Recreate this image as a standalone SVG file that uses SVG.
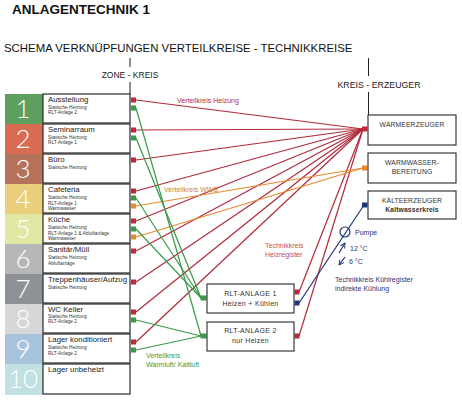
<svg xmlns="http://www.w3.org/2000/svg" width="462" height="400" viewBox="0 0 462 400">
<style>
text{font-family:"Liberation Sans",Arial,sans-serif;}
.num{font-family:Lato,"Liberation Sans",sans-serif;font-weight:300;font-size:26px;fill:#fff;text-anchor:middle;}
.zb{fill:#fff;stroke:#2b2b2b;stroke-width:1.2;}
.zt{font-size:7.8px;fill:#222;}
.zs{font-size:4.8px;fill:#333;}
.box{fill:#fff;stroke:#3a3a3a;stroke-width:1.2;}
.bt{font-size:7px;fill:#333;text-anchor:middle;letter-spacing:0.3px;}
.bt2{font-size:6.8px;fill:#333;text-anchor:middle;letter-spacing:0.1px;}
.tick{stroke:#222;stroke-width:1;}
.r{stroke:#b02a3a;stroke-width:1.2;fill:none;}
.g{stroke:#3a9a48;stroke-width:1.2;fill:none;}
.o{stroke:#e8892f;stroke-width:1.2;fill:none;}
.b{stroke:#1f3575;stroke-width:1.2;fill:none;}
.rs{fill:#c0283a;}
.gs{fill:#3a9a48;}
.os{fill:#e8892f;}
.bs{fill:#1f3575;}
.lab{font-size:7px;}
</style>
<defs>
<marker id="ah" viewBox="0 0 6 6" refX="5" refY="3" markerWidth="5" markerHeight="5" orient="auto"><path d="M0,0.5 L5,3 L0,5.5" fill="none" stroke="#1f3575" stroke-width="0.9"/></marker>
</defs>

<text x="12" y="14" font-size="13.5" font-weight="bold" fill="#111">ANLAGENTECHNIK 1</text>
<text x="4" y="52" font-size="11.4" fill="#111">SCHEMA VERKNÜPFUNGEN VERTEILKREISE - TECHNIKKREISE</text>
<line class="tick" x1="130" y1="58" x2="130" y2="67"/>
<text x="130" y="78" font-size="8.5" fill="#222" text-anchor="middle">ZONE - KREIS</text>
<line class="tick" x1="130" y1="82" x2="130" y2="94"/>
<line class="tick" x1="368.5" y1="58" x2="368.5" y2="76"/>
<text x="379" y="87.5" font-size="8.8" fill="#222" text-anchor="middle">KREIS - ERZEUGER</text>
<line class="tick" x1="368.5" y1="92" x2="368.5" y2="115"/>

<g id="connectors">
<g class="r">
<line x1="136" y1="100" x2="363" y2="129"/>
<line x1="136" y1="130" x2="363" y2="129"/>
<line x1="136" y1="160" x2="363" y2="129"/>
<line x1="136" y1="191" x2="363" y2="129"/>
<line x1="136" y1="221" x2="363" y2="129"/>
<line x1="136" y1="251" x2="363" y2="129"/>
<line x1="136" y1="282" x2="363" y2="129"/>
<line x1="136" y1="312" x2="363" y2="129"/>
<line x1="136" y1="342" x2="363" y2="129"/>
<line x1="299" y1="292" x2="363" y2="129"/>
<line x1="299" y1="336" x2="363" y2="129"/>
</g>
<g class="o">
<line x1="136" y1="206" x2="363" y2="168"/>
<line x1="136" y1="237" x2="363" y2="168"/>
</g>
<g class="g">
<line x1="136" y1="108" x2="201" y2="336"/>
<line x1="136" y1="138" x2="201" y2="298"/>
<line x1="136" y1="198" x2="201" y2="298"/>
<line x1="136" y1="229" x2="201" y2="298"/>
<line x1="136" y1="320" x2="201" y2="336"/>
<line x1="136" y1="350" x2="201" y2="336"/>
</g>
<line class="b" x1="299" y1="303" x2="364" y2="205"/>
<circle class="b" cx="345" cy="232" r="5"/>
<path class="b" d="M339,253 L345,243" marker-end="url(#ah)"/>
<path class="b" d="M345,257 L339,265" marker-end="url(#ah)"/>
<g class="rs">
<rect x="131" y="97.5" width="5" height="5"/>
<rect x="131" y="127.5" width="5" height="5"/>
<rect x="131" y="157.5" width="5" height="5"/>
<rect x="131" y="188.5" width="5" height="5"/>
<rect x="131" y="218.5" width="5" height="5"/>
<rect x="131" y="248.5" width="5" height="5"/>
<rect x="131" y="279.5" width="5" height="5"/>
<rect x="131" y="309.5" width="5" height="5"/>
<rect x="131" y="339.5" width="5" height="5"/>
<rect x="294.5" y="289.5" width="5" height="5"/>
<rect x="294.5" y="333.5" width="5" height="5"/>
<rect x="362" y="126.5" width="5.5" height="5"/>
</g>
<g class="gs">
<rect x="131" y="105.5" width="5" height="5"/>
<rect x="131" y="135.5" width="5" height="5"/>
<rect x="131" y="195.5" width="5" height="5"/>
<rect x="131" y="226.5" width="5" height="5"/>
<rect x="131" y="317.5" width="5" height="5"/>
<rect x="131" y="347.5" width="5" height="5"/>
<rect x="200.5" y="295.5" width="6" height="5"/>
<rect x="200.5" y="333.5" width="6" height="5"/>
</g>
<g class="os">
<rect x="131" y="203.5" width="5" height="5"/>
<rect x="131" y="234.5" width="5" height="5"/>
<rect x="362" y="165.5" width="5.5" height="5"/>
</g>
<g class="bs">
<rect x="294.5" y="300.5" width="5" height="5"/>
<rect x="362" y="202.5" width="5.5" height="5"/>
</g>
</g>

<text class="lab" x="177" y="103" fill="#b03040">Verteilkreis Heizung</text>
<text class="lab" x="164" y="192" fill="#c8853a">Verteilkreis WWB</text>
<text class="lab" x="265" y="248" fill="#c05060">Technikkreis</text>
<text class="lab" x="265" y="257" fill="#c05060">Heizregister</text>
<text class="lab" x="146" y="358" fill="#3a9a48">Verteilkreis</text>
<text class="lab" x="146" y="367" fill="#3a9a48">Warmluft/ Kaltluft</text>
<g fill="#1f3575" font-size="7">
<text x="355" y="235">Pumpe</text>
<text x="350" y="251">12 °C</text>
<text x="349" y="264">6 °C</text>
<text x="335" y="282">Technikkreis Kühlregister</text>
<text x="335" y="291">indirekte Kühlung</text>
</g>

<g id="zone1"><rect x="5" y="94" width="38" height="30" fill="#5c9f5e"/><text class="num" x="23" y="117.5">1</text><rect class="zb" x="43" y="94" width="87" height="29"/><text class="zt" x="48" y="101.5">Ausstellung</text><text class="zs" x="48" y="108.5">Statische Heizung</text><text class="zs" x="48" y="114">RLT-Anlage 2</text></g>
<g id="zone2"><rect x="5" y="124" width="38" height="30" fill="#d96b52"/><text class="num" x="23" y="147.5">2</text><rect class="zb" x="43" y="124" width="87" height="29"/><text class="zt" x="48" y="131.5">Seminarraum</text><text class="zs" x="48" y="138.5">Statische Heizung</text><text class="zs" x="48" y="144">RLT-Anlage 1</text></g>
<g id="zone3"><rect x="5" y="154" width="38" height="30" fill="#b4735a"/><text class="num" x="23" y="177.5">3</text><rect class="zb" x="43" y="154" width="87" height="29"/><text class="zt" x="48" y="161.5">Büro</text><text class="zs" x="48" y="168.5">Statische Heizung</text></g>
<g id="zone4"><rect x="5" y="184" width="38" height="30" fill="#e9cf7c"/><text class="num" x="23" y="207.5">4</text><rect class="zb" x="43" y="184" width="87" height="29"/><text class="zt" x="48" y="191.5">Cafeteria</text><text class="zs" x="48" y="199">Statische Heizung</text><text class="zs" x="48" y="204.5">RLT-Anlage 1</text><text class="zs" x="48" y="210">Warmwasser</text></g>
<g id="zone5"><rect x="5" y="214" width="38" height="30" fill="#e0e8a4"/><text class="num" x="23" y="237.5">5</text><rect class="zb" x="43" y="214" width="87" height="29"/><text class="zt" x="48" y="221.5">Küche</text><text class="zs" x="48" y="229">Statische Heizung</text><text class="zs" x="48" y="234.5">RLT-Anlage 1 &amp; Abluftanlage</text><text class="zs" x="48" y="240">Warmwasser</text></g>
<g id="zone6"><rect x="5" y="244" width="38" height="30" fill="#b5b7b9"/><text class="num" x="23" y="267.5">6</text><rect class="zb" x="43" y="244" width="87" height="29"/><text class="zt" x="48" y="251.5">Sanitär/Müll</text><text class="zs" x="48" y="259">Statische Heizung</text><text class="zs" x="48" y="264.5">Abluftanlage</text></g>
<g id="zone7"><rect x="5" y="274" width="38" height="30" fill="#8e9297"/><text class="num" x="23" y="297.5">7</text><rect class="zb" x="43" y="274" width="87" height="29"/><text class="zt" x="48" y="281.5">Treppenhäuser/Aufzug</text><text class="zs" x="48" y="289">Statische Heizung</text></g>
<g id="zone8"><rect x="5" y="304" width="38" height="30" fill="#d5d7d9"/><text class="num" x="23" y="327.5">8</text><rect class="zb" x="43" y="304" width="87" height="29"/><text class="zt" x="48" y="311.5">WC Keller</text><text class="zs" x="48" y="317.5">Statische Heizung</text><text class="zs" x="48" y="323">RLT-Anlage 2</text></g>
<g id="zone9"><rect x="5" y="334" width="38" height="30" fill="#a8c4dd"/><text class="num" x="23" y="357.5">9</text><rect class="zb" x="43" y="334" width="87" height="29"/><text class="zt" x="48" y="341.5">Lager konditioniert</text><text class="zs" x="48" y="349">Statische Heizung</text><text class="zs" x="48" y="354.5">RLT-Anlage 2</text></g>
<g id="zone10"><rect x="5" y="364" width="38" height="31" fill="#c2dfe1"/><text class="num" x="23" y="387.5">10</text><rect class="zb" x="43" y="364" width="87" height="30"/><text class="zt" x="48" y="371.5">Lager unbeheizt</text></g>

<g id="rlt1"><rect class="box" x="207" y="284" width="87" height="29"/><text class="bt" x="250.5" y="296">RLT-ANLAGE 1</text><text class="bt" x="250.5" y="305.5">Heizen + Kühlen</text></g>
<g id="rlt2"><rect class="box" x="207" y="322" width="87" height="29"/><text class="bt" x="250.5" y="333">RLT-ANLAGE 2</text><text class="bt" x="250.5" y="342.5">nur Heizen</text></g>
<g id="waerme"><rect class="box" x="368" y="115" width="88" height="30"/><text class="bt2" x="412" y="127">WÄRMEERZEUGER</text></g>
<g id="warmwasser"><rect class="box" x="368" y="153" width="88" height="30"/><text class="bt2" x="412" y="165">WARMWASSER-</text><text class="bt2" x="412" y="174">BEREITUNG</text></g>
<g id="kaelte"><rect class="box" x="368" y="191" width="88" height="28"/><text class="bt2" x="412" y="202.5">KÄLTEERZEUGER</text><text class="bt2" x="412" y="212" fill="#1f3575" font-weight="bold" letter-spacing="0">Kaltwasserkreis</text></g>
</svg>
